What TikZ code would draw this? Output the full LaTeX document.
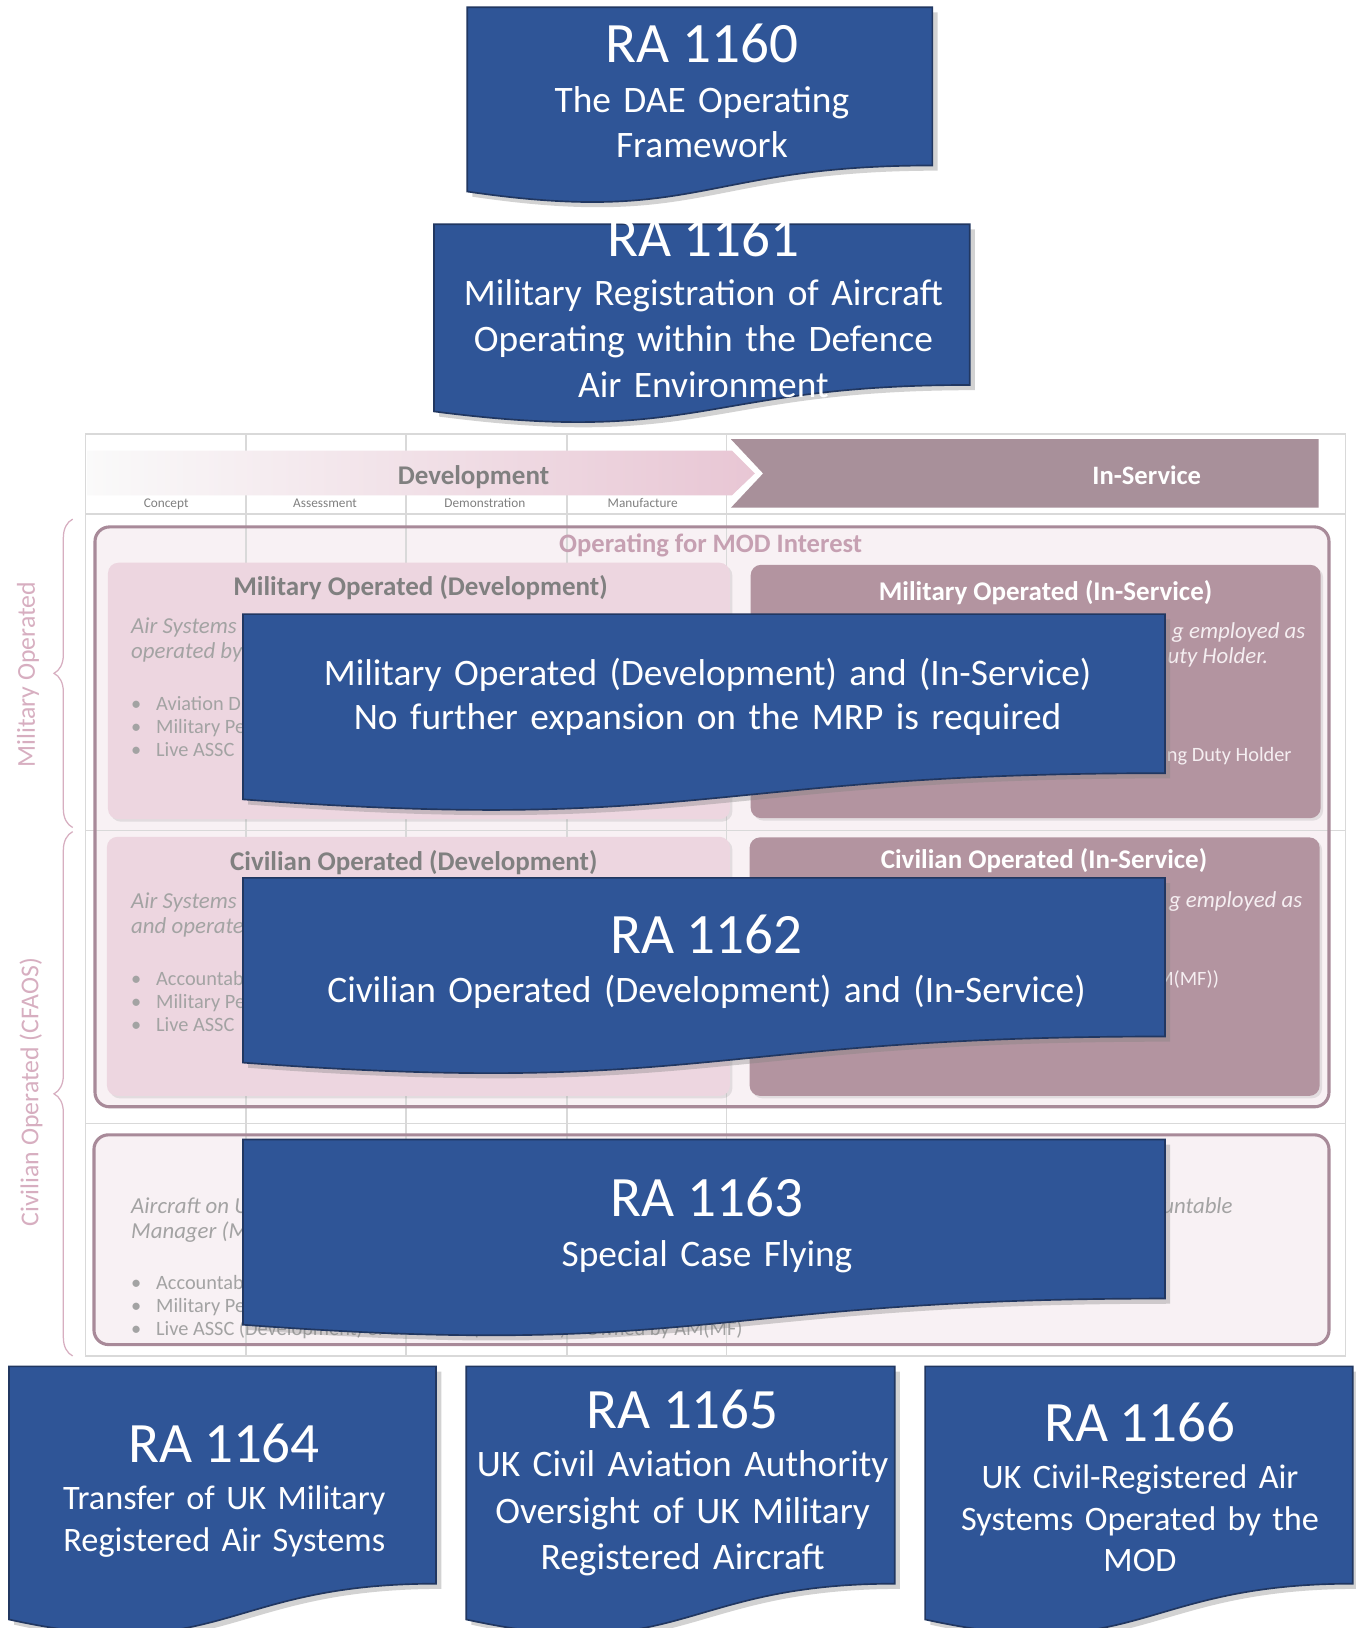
\documentclass[tikz,border=0pt]{standalone}
\usepackage{fontspec}
\setmainfont{Carlito}
\usetikzlibrary{shadows, decorations.pathreplacing}

\definecolor{rablue}{RGB}{47, 85, 151}
\definecolor{raedge}{RGB}{33, 55, 97}
\definecolor{devpink}{RGB}{237, 214, 224}
\definecolor{svcmauve}{RGB}{179, 148, 160}
\definecolor{hdrmauve}{RGB}{168, 144, 154}
\definecolor{bandpink}{RGB}{232, 198, 212}
\definecolor{framemauve}{RGB}{168, 138, 153}
\definecolor{framefill}{RGB}{248, 241, 244}
\definecolor{gridgray}{RGB}{217, 217, 217}
\definecolor{titlegray}{RGB}{128, 128, 128}
\definecolor{notegray}{RGB}{163, 163, 163}
\definecolor{notewhite}{RGB}{245, 238, 241}
\definecolor{sidepink}{RGB}{215, 174, 192}
\definecolor{oppink}{RGB}{198, 160, 178}

% document-shaped box: left, top, width, height (px, y down)
\newcommand{\radocpath}[4]{(#1,#2) -- (#1+#3,#2) -- (#1+#3,#2+0.802*#4)
  .. controls (#1+0.5*#3,#2+0.802*#4) and (#1+0.5*#3,#2+1.1075*#4) .. (#1,#2+0.934*#4) -- cycle}
\newcommand{\ranum}[1]{{\fontsize{27.5}{33}\selectfont #1}}
\newcommand{\bul}[1]{\makebox[12pt][l]{\textbullet}#1}

\begin{document}
\begin{tikzpicture}[x=0.5pt, y=-0.5pt,
  radoc/.style={fill=rablue, draw=raedge, line width=0.8pt,
    drop shadow={shadow xshift=2.5pt, shadow yshift=-2.5pt, opacity=0.35}},
  ratext/.style={text=white, align=center, text width=420pt, anchor=base,
    inner sep=0pt, font=\fontsize{18}{22}\selectfont},
  gridline/.style={draw=gridgray, line width=0.6pt},
  opframe/.style={draw=framemauve, line width=1.5pt, rounded corners=7pt},
  devbox/.style={fill=devpink, rounded corners=5pt,
    drop shadow={shadow xshift=1.2pt, shadow yshift=-1.2pt, opacity=0.18}},
  svcbox/.style={fill=svcmauve, rounded corners=5pt,
    drop shadow={shadow xshift=1.2pt, shadow yshift=-1.2pt, opacity=0.18}},
  boxtitle/.style={anchor=base, inner sep=0pt, font=\bfseries\fontsize{13}{15}\selectfont},
  noteit/.style={inner sep=0pt, font=\itshape\fontsize{11}{13}\selectfont},
  noteup/.style={inner sep=0pt, font=\fontsize{9.8}{12}\selectfont},
  phase/.style={anchor=base, inner sep=0pt, text=titlegray, font=\fontsize{6.4}{8}\selectfont},
  sidelabel/.style={rotate=90, inner sep=0pt, text=sidepink, font=\fontsize{12.4}{15}\selectfont},
  sidebrace/.style={draw=sidepink, line width=0.6pt, decorate, decoration={brace, amplitude=9pt}}
]
  \useasboundingbox (0,0) rectangle (1306,1568);
  \fill[white] (0,0) rectangle (1306,1568);

  % Operating frames (filled first, the grid shows through)
  \fill[framefill, rounded corners=7pt] (91.5,507.5) rectangle (1280,1066);
  \fill[framefill, rounded corners=7pt] (90.5,1093) rectangle (1280,1295);

  % Lifecycle grid
  \draw[gridline] (82,418) rectangle (1296,1306);
  \draw[gridline] (237,418) -- (237,1306) (391,418) -- (391,1306)
    (546,418) -- (546,1306) (700,418) -- (700,1306);
  \draw[gridline] (82,495) -- (1296,495) (82,800) -- (1296,800) (82,1082) -- (1296,1082);

  % Phase header
  \shade[left color=white!96!gray, right color=bandpink]
    (84,434) -- (705,434) -- (727,456) -- (705,477) -- (84,477) -- cycle;
  \fill[hdrmauve] (704,423) -- (1270,423) -- (1270,489) -- (704,489) -- (735,456) -- cycle;
  \node[anchor=base, inner sep=0pt, text=titlegray, font=\bfseries\fontsize{13}{15}\selectfont] (dev) at (456,467) {Development};
  \node[anchor=base, inner sep=0pt, text=white, font=\bfseries\fontsize{12.8}{15}\selectfont] (insvc) at (1104.5,466.5) {In-Service};
  \node[phase] (concept) at (160,488.6) {Concept};
  \node[phase] (assess) at (313,488.6) {Assessment};
  \node[phase] (demo) at (467,488.6) {Demonstration};
  \node[phase] (manuf) at (619,488.6) {Manufacture};

  % Frame outlines
  \draw[opframe] (91.5,507.5) rectangle (1280,1066);
  \draw[opframe] (90.5,1093) rectangle (1280,1295);
  \node[anchor=base, inner sep=0pt, text=oppink, font=\bfseries\fontsize{12.8}{15}\selectfont] (opmod) at (684.5,532) {Operating for MOD Interest};

  % Operator boxes
  \path[devbox] (104,542) rectangle (703,789);
  \path[svcbox] (723,544) rectangle (1272,788);
  \path[devbox] (103,806) rectangle (703,1055.5);
  \path[svcbox] (722,806.5) rectangle (1271,1055.5);

  \node[boxtitle, text=titlegray] (mildev) at (405,574) {Military Operated (Development)};
  \node[boxtitle, text=white] (milsvc) at (1007,578) {Military Operated (In-Service)};
  \node[boxtitle, text=titlegray] (civdev) at (398.5,838) {Civilian Operated (Development)};
  \node[boxtitle, text=white] (civsvc) at (1005.5,836.3) {Civilian Operated (In-Service)};

  % Notes (mostly hidden by the articles)
  \node[noteit, text=notegray, anchor=base west] (mdn1) at (126,610) {Air Systems};
  \node[noteit, text=notegray, anchor=base west] (mdn2) at (126,634) {operated by};
  \node[noteup, text=notegray, anchor=base west] (mdb1) at (126,684) {\bul{Aviation D}};
  \node[noteup, text=notegray, anchor=base west] (mdb2) at (126,706) {\bul{Military Pe}};
  \node[noteup, text=notegray, anchor=base west] (mdb3) at (126,728.8) {\bul{Live ASSC}};
  \node[noteit, text=notewhite, anchor=base east] (msn1) at (1257.6,614.8) {g employed as};
  \node[noteit, text=notewhite, anchor=base east] (msn2) at (1221.7,638.9) {uty Holder.};
  \node[noteup, text=notewhite, anchor=base east] (msb1) at (1244.4,733.6) {ng Duty Holder};

  \node[noteit, text=notegray, anchor=base west] (cdn1) at (126,874.8) {Air Systems};
  \node[noteit, text=notegray, anchor=base west] (cdn2) at (126,898.9) {and operate};
  \node[noteup, text=notegray, anchor=base west] (cdb1) at (126,948.7) {\bul{Accountab}};
  \node[noteup, text=notegray, anchor=base west] (cdb2) at (126,971.1) {\bul{Military Pe}};
  \node[noteup, text=notegray, anchor=base west] (cdb3) at (126,993.6) {\bul{Live ASSC}};
  \node[noteit, text=notewhite, anchor=base east] (csn1) at (1254.6,873.9) {g employed as};
  \node[noteup, text=notewhite, anchor=base east] (csb1) at (1174.4,948.7) {M(MF))};

  \node[noteit, text=notegray, anchor=base west] (scn1) at (126,1169.2) {Aircraft on U};
  \node[noteit, text=notegray, anchor=base west] (scn2) at (126,1193.3) {Manager (M};
  \node[noteit, text=notegray, anchor=base east] (scn3) at (1187.6,1168.6) {untable};
  \node[noteup, text=notegray, anchor=base west] (scb1) at (126,1242) {\bul{Accountab}};
  \node[noteup, text=notegray, anchor=base west] (scb2) at (126,1264) {\bul{Military Pe}};
  \node[noteup, text=notegray, anchor=base west] (scb3) at (126,1286.5) {\bul{Live ASSC (Development) or Live ASSC (In-Service) – Owned by AM(MF)}};

  % Side labels
  \draw[sidebrace] (70,797) -- (70,500);
  \draw[sidebrace] (70,1306) -- (70,801);
  \node[sidelabel] (milop) at (27,650) {Military Operated};
  \node[sidelabel] (civop) at (30,1052) {Civilian Operated (CFAOS)};

  % Regulatory Articles
  \path[radoc] \radocpath{450}{7}{448}{190};
  \node[ratext, font=\fontsize{18}{21.7}\selectfont] (ra1160) at (676,60)
    {\ranum{RA 1160}\\[2.3pt] The DAE Operating\\ Framework};

  \path[radoc] \radocpath{418}{216}{516}{193};
  \node[ratext, font=\fontsize{18}{22.3}\selectfont] (ra1161) at (677.5,247)
    {\ranum{RA 1161}\\[1.2pt] Military Registration of Aircraft\\ Operating within the Defence\\ Air Environment};

  \path[radoc] \radocpath{234}{591.5}{888}{191};
  \node[ratext, font=\fontsize{18}{21.5}\selectfont] (mrpnote) at (681.5,660)
    {Military Operated (Development) and (In-Service)\\ No further expansion on the MRP is required};

  \path[radoc] \radocpath{234}{845.5}{888}{190.5};
  \node[ratext] (ra1162) at (680.5,918)
    {\ranum{RA 1162}\\[2pt] Civilian Operated (Development) and (In-Service)};

  \path[radoc] \radocpath{234}{1097.5}{888}{191};
  \node[ratext] (ra1163) at (681,1172)
    {\ranum{RA 1163}\\[2pt] Special Case Flying};

  \path[radoc] \radocpath{8.6}{1316}{411.4}{261};
  \node[ratext, font=\fontsize{16.5}{20.25}\selectfont] (ra1164) at (216,1409)
    {\ranum{RA 1164}\\[2.25pt] Transfer of UK Military\\ Registered Air Systems};

  \path[radoc] \radocpath{449}{1316}{412.8}{261};
  \node[ratext, font=\fontsize{18}{22.5}\selectfont] (ra1165) at (657.5,1375.6)
    {\ranum{RA 1165}\\[0.7pt] UK Civil Aviation Authority\\ Oversight of UK Military\\ Registered Aircraft};

  \path[radoc] \radocpath{891}{1316}{411.8}{261};
  \node[ratext, font=\fontsize{16.5}{20.1}\selectfont] (ra1166) at (1098,1388.5)
    {\ranum{RA 1166}\\[2.35pt] UK Civil-Registered Air\\ Systems Operated by the\\ MOD};
\end{tikzpicture}
\end{document}
